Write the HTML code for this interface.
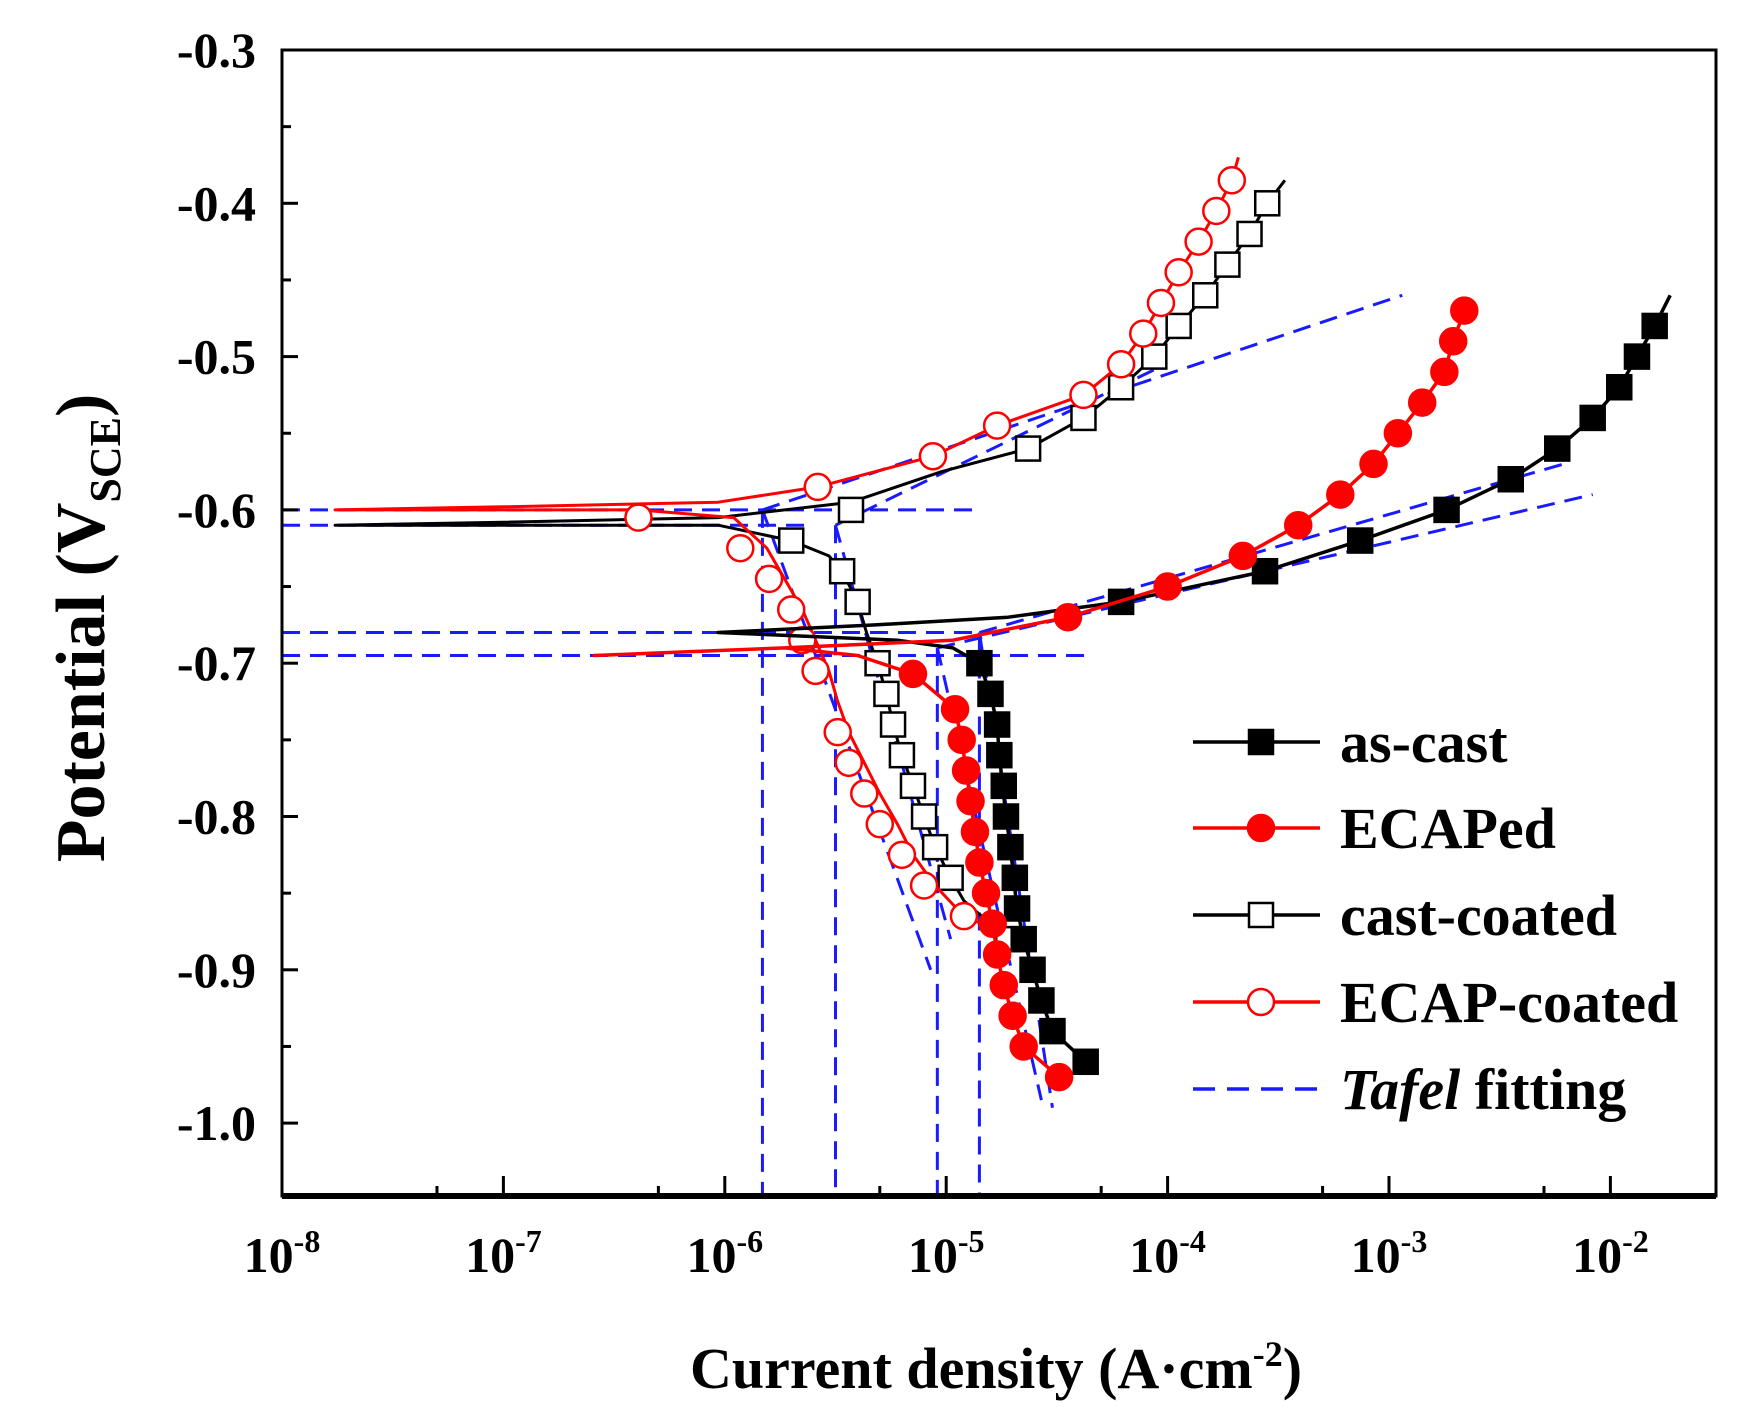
<!DOCTYPE html>
<html><head><meta charset="utf-8"><style>
html,body{margin:0;padding:0;background:#fff;}
svg{display:block;font-family:"Liberation Serif",serif;font-weight:bold;}
</style></head><body>
<svg id="chart" width="1744" height="1423" viewBox="0 0 1744 1423">
<g id="tafel"></g>
<g id="series"></g>
<g id="axes"></g>
<g id="legend"></g>
</svg>
<script>
// ---- data (log10 current density, potential V) ----
const asCastLineI = [-4.37,-4.52,-4.57,-4.61,-4.65,-4.68,-4.71,-4.73,-4.76,-4.77,-4.80,-4.85,-4.97,-5.22,-6.03,-5.32,-4.72,-4.21,-3.56,-3.13,-2.74,-2.45,-2.24,-2.08,-1.96,-1.88,-1.80,-1.73];
const asCastLineE = [-0.96,-0.94,-0.92,-0.90,-0.88,-0.86,-0.82,-0.80,-0.76,-0.74,-0.72,-0.70,-0.69,-0.685,-0.68,-0.675,-0.67,-0.66,-0.64,-0.62,-0.60,-0.58,-0.56,-0.54,-0.52,-0.50,-0.48,-0.46];
const asCastMarkI = [-4.37,-4.52,-4.57,-4.61,-4.65,-4.68,-4.69,-4.71,-4.73,-4.74,-4.76,-4.77,-4.80,-4.85,-4.21,-3.56,-3.13,-2.74,-2.45,-2.24,-2.08,-1.96,-1.88,-1.80];
const asCastMarkE = [-0.96,-0.94,-0.92,-0.90,-0.88,-0.86,-0.84,-0.82,-0.80,-0.78,-0.76,-0.74,-0.72,-0.70,-0.66,-0.64,-0.62,-0.60,-0.58,-0.56,-0.54,-0.52,-0.50,-0.48];

const ecapLineI = [-4.49,-4.65,-4.70,-4.74,-4.77,-4.79,-4.82,-4.85,-4.87,-4.89,-4.91,-4.93,-4.96,-5.15,-5.40,-5.73,-6.59,-5.73,-4.97,-4.45,-4.00,-3.66,-3.41,-3.22,-3.07,-2.96,-2.85,-2.75,-2.71,-2.66];
const ecapLineE = [-0.97,-0.95,-0.93,-0.91,-0.89,-0.87,-0.85,-0.83,-0.81,-0.79,-0.77,-0.75,-0.73,-0.707,-0.695,-0.69,-0.695,-0.69,-0.685,-0.67,-0.65,-0.63,-0.61,-0.59,-0.57,-0.55,-0.53,-0.51,-0.49,-0.47];
const ecapMarkI = [-4.49,-4.65,-4.70,-4.74,-4.77,-4.79,-4.82,-4.85,-4.87,-4.89,-4.91,-4.93,-4.96,-5.15,-4.45,-4.00,-3.66,-3.41,-3.22,-3.07,-2.96,-2.85,-2.75,-2.71,-2.66];
const ecapMarkE = [-0.97,-0.95,-0.93,-0.91,-0.89,-0.87,-0.85,-0.83,-0.81,-0.79,-0.77,-0.75,-0.73,-0.707,-0.67,-0.65,-0.63,-0.61,-0.59,-0.57,-0.55,-0.53,-0.51,-0.49,-0.47];

const castCoatLineI = [-4.72,-4.92,-4.98,-5.05,-5.10,-5.15,-5.20,-5.24,-5.27,-5.31,-5.36,-5.40,-5.47,-5.53,-5.70,-6.03,-7.00,-7.76,-7.00,-6.03,-5.43,-5.02,-4.63,-4.38,-4.21,-4.06,-3.95,-3.83,-3.73,-3.63,-3.55,-3.47];
const castCoatLineE = [-0.88,-0.855,-0.84,-0.82,-0.80,-0.78,-0.76,-0.74,-0.72,-0.70,-0.68,-0.66,-0.64,-0.63,-0.62,-0.61,-0.61,-0.61,-0.608,-0.605,-0.595,-0.575,-0.56,-0.54,-0.52,-0.50,-0.48,-0.46,-0.44,-0.42,-0.40,-0.385];
const castCoatMarkI = [-4.72,-4.98,-5.05,-5.10,-5.15,-5.20,-5.24,-5.27,-5.31,-5.40,-5.47,-5.70,-5.43,-4.63,-4.38,-4.21,-4.06,-3.95,-3.83,-3.73,-3.63,-3.55];
const castCoatMarkE = [-0.88,-0.84,-0.82,-0.80,-0.78,-0.76,-0.74,-0.72,-0.70,-0.66,-0.64,-0.62,-0.60,-0.56,-0.54,-0.52,-0.50,-0.48,-0.46,-0.44,-0.42,-0.40];

const ecapCoatLineI = [-4.84,-4.92,-5.05,-5.15,-5.22,-5.30,-5.37,-5.44,-5.49,-5.53,-5.59,-5.65,-5.73,-5.81,-5.96,-6.39,-7.00,-7.76,-7.00,-6.03,-5.58,-5.06,-4.77,-4.38,-4.21,-4.11,-4.03,-3.95,-3.86,-3.78,-3.71,-3.68];
const ecapCoatLineE = [-0.87,-0.865,-0.845,-0.825,-0.805,-0.785,-0.765,-0.745,-0.725,-0.705,-0.685,-0.665,-0.645,-0.625,-0.605,-0.60,-0.60,-0.60,-0.598,-0.595,-0.585,-0.565,-0.545,-0.525,-0.505,-0.485,-0.465,-0.445,-0.425,-0.405,-0.385,-0.37];
const ecapCoatMarkI = [-4.92,-5.10,-5.20,-5.30,-5.37,-5.44,-5.49,-5.59,-5.65,-5.70,-5.80,-5.93,-6.39,-5.58,-5.06,-4.77,-4.38,-4.21,-4.11,-4.03,-3.95,-3.86,-3.78,-3.71];
const ecapCoatMarkE = [-0.865,-0.845,-0.825,-0.805,-0.785,-0.765,-0.745,-0.705,-0.685,-0.665,-0.645,-0.625,-0.605,-0.585,-0.565,-0.545,-0.525,-0.505,-0.485,-0.465,-0.445,-0.425,-0.405,-0.385];

const tafelI1 = [-8,-8,-8,-8,-5.83,-5.50,-5.04,-4.85,-5.83,-5.50,-5.04,-4.85,-5.83,-5.50,-5.04,-4.85];
const tafelE1 = [-0.60,-0.61,-0.68,-0.695,-0.60,-0.61,-0.69,-0.68,-0.60,-0.61,-0.69,-0.68,-0.60,-0.61,-0.69,-0.68];
const tafelI2 = [-4.87,-5.63,-4.72,-4.34,-5.83,-5.50,-5.04,-4.85,-2.94,-4.01,-2.08,-2.21,-5.07,-4.98,-4.57,-4.52];
const tafelE2 = [-0.60,-0.61,-0.68,-0.695,-1.05,-1.05,-1.05,-1.05,-0.46,-0.505,-0.59,-0.57,-0.90,-0.88,-0.985,-0.99];

const yTicks = [-0.3,-0.4,-0.5,-0.6,-0.7,-0.8,-0.9,-1.0];
const yTickLabels = ["-0.3","-0.4","-0.5","-0.6","-0.7","-0.8","-0.9","-1.0"];
const xTicks = [-8,-7,-6,-5,-4,-3,-2];
const xTickExp = ["-8","-7","-6","-5","-4","-3","-2"];

// ---- scales ----
const L=282, R=1716, T=50, B=1196;
function xs(l){return L + (l+8)*221.4;}
function ys(e){return T + (-0.3-e)/0.1*153.3;}
const NS="http://www.w3.org/2000/svg";
function mk(tag, attrs, parent){const el=document.createElementNS(NS,tag);for(const k in attrs)el.setAttribute(k,attrs[k]);parent.appendChild(el);return el;}

const defs=mk('defs',{},document.getElementById('chart'));
const cp=mk('clipPath',{id:'clip'},defs);
mk('rect',{x:L,y:T,width:R-L,height:B-T},cp);

const tg=document.getElementById('tafel');
tg.setAttribute('clip-path','url(#clip)');
for(let i=0;i<tafelI1.length;i++){
  const ln=mk('line',{x1:xs(tafelI1[i]),y1:ys(tafelE1[i]),x2:xs(tafelI2[i]),y2:ys(tafelE2[i]),stroke:'#1a1aff','stroke-width':3,'stroke-dasharray':'18,10'},tg);
  
  
}

const sg=document.getElementById('series');
function drawSeries(name,li,le,mi,me,color,marker,filled,lw){
  const g=mk('g',{},sg);
  
  
  const pts=li.map((v,i)=>xs(v).toFixed(1)+','+ys(le[i]).toFixed(1)).join(' ');
  const pl=mk('polyline',{points:pts,fill:'none',stroke:color,'stroke-width':lw,'stroke-linejoin':'round'},g);
  
  
  for(let i=0;i<mi.length;i++){
    const cx=xs(mi[i]), cy=ys(me[i]);
    let m;
    if(marker==='square') m=mk('rect',{x:cx-12,y:cy-12,width:24,height:24,fill:filled?color:'#fff',stroke:color,'stroke-width':2.5},g);
    else m=mk('circle',{cx:cx,cy:cy,r:13,fill:filled?color:'#fff',stroke:color,'stroke-width':2.5},g);
    
    
  }
}
drawSeries('cast-coated',castCoatLineI,castCoatLineE,castCoatMarkI,castCoatMarkE,'#000','square',false,3);
drawSeries('ecap-coated',ecapCoatLineI,ecapCoatLineE,ecapCoatMarkI,ecapCoatMarkE,'#ff0000','circle',false,3);
drawSeries('as-cast',asCastLineI,asCastLineE,asCastMarkI,asCastMarkE,'#000','square',true,3.5);
drawSeries('ecaped',ecapLineI,ecapLineE,ecapMarkI,ecapMarkE,'#ff0000','circle',true,3.5);

const ag=document.getElementById('axes');
const fr=mk('rect',{x:L,y:T,width:R-L,height:B-T,fill:'none',stroke:'#000','stroke-width':3},ag);


mk('line',{x1:L,y1:B,x2:R,y2:B,stroke:'#000','stroke-width':6},ag);
for(let i=0;i<yTicks.length;i++){
  const y=ys(yTicks[i]);
  mk('line',{x1:L,y1:y,x2:L+16,y2:y,stroke:'#000','stroke-width':3},ag);
  const t=mk('text',{x:L-26,y:y+17,'text-anchor':'end','font-size':50},ag);
  t.textContent=yTickLabels[i];
  
  
  const y2=ys(yTicks[i]-0.05);
  if(y2<B-5) mk('line',{x1:L,y1:y2,x2:L+9,y2:y2,stroke:'#000','stroke-width':3},ag);
}
for(let i=0;i<xTicks.length;i++){
  const x=xs(xTicks[i]);
  mk('line',{x1:x,y1:B,x2:x,y2:B-20,stroke:'#000','stroke-width':3},ag);
  if(i>0) mk('line',{x1:xs(xTicks[i]-0.3),y1:B,x2:xs(xTicks[i]-0.3),y2:B-10,stroke:'#000','stroke-width':3},ag);
  const t=mk('text',{x:x,y:1272,'text-anchor':'middle','font-size':50},ag);
  t.innerHTML='10<tspan dy="-20" font-size="32">'+xTickExp[i]+'</tspan>';
  
  
}
const xt=mk('text',{x:996,y:1388,'text-anchor':'middle','font-size':58},ag);
xt.innerHTML='Current density (A·cm<tspan dy="-22" font-size="36">-2</tspan><tspan dy="22">)</tspan>';


const yt=mk('text',{x:0,y:0,'text-anchor':'middle','font-size':70,transform:'translate(104,628) rotate(-90)'},ag);
yt.innerHTML='Potential (V<tspan dy="16" font-size="44">SCE</tspan><tspan dy="-16">)</tspan>';



const lg=document.getElementById('legend');
const legNames=['as-cast','ECAPed','cast-coated','ECAP-coated','fitting'];
const legY=[742,828,915,1002,1089];
for(let i=0;i<5;i++){
  const g=mk('g',{},lg);
  
  
  const y=legY[i];
  const color=(i===1||i===3)?'#ff0000':(i===4?'#1a1aff':'#000');
  if(i<4){
    mk('line',{x1:1193,y1:y,x2:1320,y2:y,stroke:color,'stroke-width':3.5},g);
    if(i%2===0) mk('rect',{x:1249,y:y-12,width:24,height:24,fill:i===0?'#000':'#fff',stroke:'#000','stroke-width':2.5},g);
    else mk('circle',{cx:1261,cy:y,r:13,fill:i===1?'#ff0000':'#fff',stroke:'#ff0000','stroke-width':2.5},g);
  } else {
    mk('line',{x1:1193,y1:y,x2:1320,y2:y,stroke:color,'stroke-width':3.5,'stroke-dasharray':'22,12'},g);
  }
  const t=mk('text',{x:1340,y:y+20,'font-size':58},g);
  if(i===4) t.innerHTML='<tspan font-style="italic">Tafel</tspan> fitting';
  else t.textContent=legNames[i];
}
</script>
</body></html>
